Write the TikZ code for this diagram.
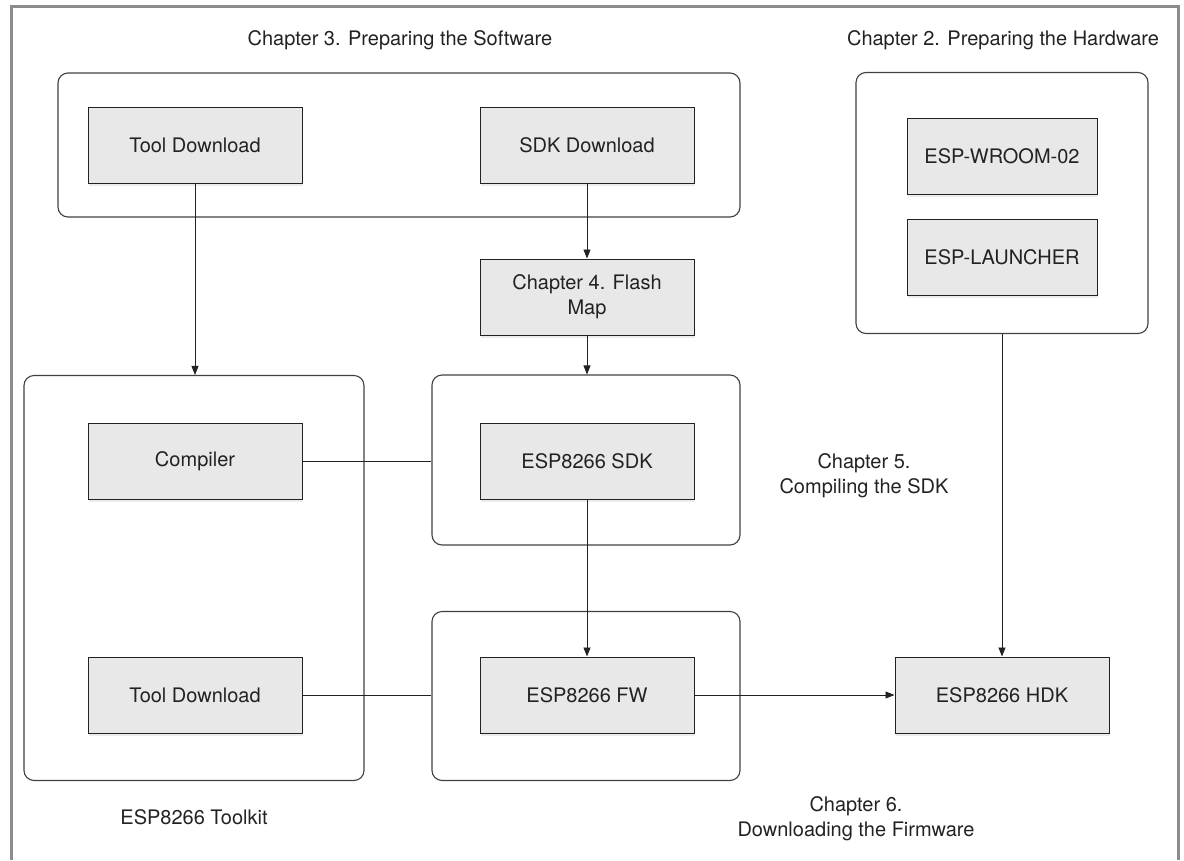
\documentclass[tikz,border=0pt]{standalone}
\usepackage{fontspec}
\setmainfont{TeX Gyre Heros}
\usetikzlibrary{arrows.meta,shadows}

\definecolor{partfill}{HTML}{E8E8E8}
\definecolor{framegray}{HTML}{8C8C8C}
\definecolor{inkgray}{HTML}{222222}

\tikzset{
    part/.style={draw=inkgray, line width=1pt, fill=partfill,
        minimum width=214pt, minimum height=76pt, text=inkgray,
        font=\fontsize{20}{25}\selectfont, align=center,
        drop shadow={shadow xshift=1pt, shadow yshift=-3pt, opacity=.15}},
    group/.style={draw=black!75, line width=1.1pt, rounded corners=10pt},
    caption/.style={text=inkgray, font=\fontsize{20}{25}\selectfont, align=center},
    link/.style={draw=inkgray, line width=.8pt},
    flow/.style={link, -{Triangle[length=9pt,width=7pt]}},
}

\begin{document}
\begin{tikzpicture}[x=1pt,y=-1pt]
    \useasboundingbox (0,0) rectangle (1184,860);
    \draw[framegray, line width=3pt] (11,860) -- (11,6) -- (1178,6) -- (1178,860);

    % groups
    \node[group, minimum width=682pt, minimum height=144pt] (software) at (399,145) {};
    \node[group, minimum width=292pt, minimum height=261pt] (hardware) at (1002,203) {};
    \node[group, minimum width=340pt, minimum height=405pt] (toolkit) at (194,578) {};
    \node[group, minimum width=308pt, minimum height=170pt] (sdkgroup) at (586,460) {};
    \node[group, minimum width=308pt, minimum height=169pt] (fwgroup) at (586,696) {};

    % captions
    \node[caption] (swtitle) at (400,40) {Chapter 3. Preparing the Software};
    \node[caption] (hwtitle) at (1003,40) {Chapter 2. Preparing the Hardware};
    \node[caption] (ch5) at (864,476) {Chapter 5.\\Compiling the SDK};
    \node[caption] (kittitle) at (194,817) {ESP8266 Toolkit};
    \node[caption] (ch6) at (856,819) {Chapter 6.\\Downloading the Firmware};

    % parts
    \node[part] (tooltop) at (195,145) {Tool Download};
    \node[part] (sdkdl) at (587,145) {SDK Download};
    \node[part] (flashmap) at (587,297) {Chapter 4. Flash\\Map};
    \node[part] (compiler) at (195,461) {Compiler};
    \node[part] (sdk) at (587,461) {ESP8266 SDK};
    \node[part] (toolbot) at (195,695) {Tool Download};
    \node[part] (fw) at (587,695) {ESP8266 FW};
    \node[part] (hdk) at (1002,695) {ESP8266 HDK};
    \node[part, minimum width=190pt] (wroom) at (1002,156) {ESP-WROOM-02};
    \node[part, minimum width=190pt] (launcher) at (1002,257) {ESP-LAUNCHER};

    % connectors
    \draw[flow] (tooltop) -- (tooltop |- toolkit.north);
    \draw[flow] (sdkdl) -- (flashmap);
    \draw[flow] (flashmap) -- (flashmap |- sdkgroup.north);
    \draw[link] (compiler) -- (compiler -| sdkgroup.west);
    \draw[flow] (sdk) -- (fw);
    \draw[link] (toolbot) -- (toolbot -| fwgroup.west);
    \draw[flow] (fw) -- (hdk);
    \draw[flow] (hardware.south -| hdk) -- (hdk);
\end{tikzpicture}
\end{document}
